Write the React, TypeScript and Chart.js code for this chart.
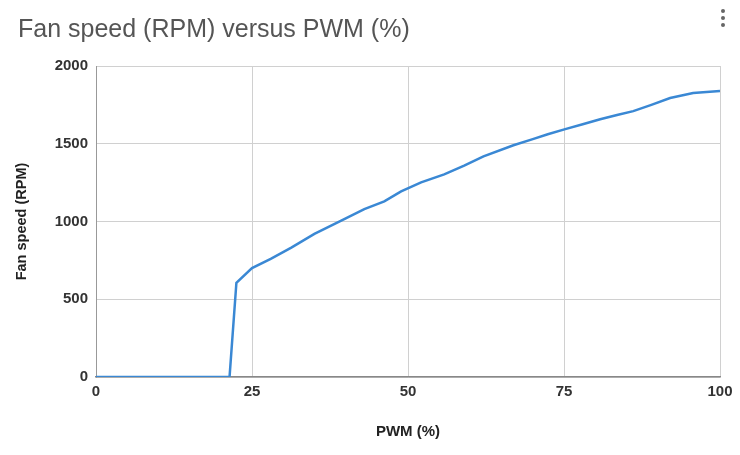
import React, { useEffect, useRef } from "react";
import { Chart, registerables } from "chart.js";

Chart.register(...registerables);

const chartTitle = "Fan speed (RPM) versus PWM (%)";
const xAxisTitle = "PWM (%)";
const yAxisTitle = "Fan speed (RPM)";

const pwm = [0, 21.4, 22.5, 25, 28, 31.3, 35, 39.3, 43, 46.2, 48.9, 52.1, 55.8, 59, 62.1, 66.9, 70, 72.4, 75.2, 78, 80.8, 83.5, 86.1, 89, 92, 95.7, 100];
const rpm = [0, 0, 606, 700, 760, 832, 920, 1006, 1080, 1129, 1194, 1252, 1303, 1360, 1419, 1490, 1530, 1561, 1594, 1625, 1658, 1685, 1710, 1750, 1794, 1826, 1840];

const xTicks = [0, 25, 50, 75, 100];
const yTicks = [0, 500, 1000, 1500, 2000];

const FONT = "'Liberation Sans', Arial, sans-serif";

const menuDots = {
  id: "menuDots",
  afterDraw(chart: any) {
    const ctx = chart.ctx;
    ctx.save();
    ctx.fillStyle = "#666";
    [11, 18, 25].forEach((y) => {
      ctx.beginPath();
      ctx.arc(723, y, 2, 0, Math.PI * 2);
      ctx.fill();
    });
    ctx.restore();
  },
};

export default function App() {
  const ref = useRef<HTMLCanvasElement>(null);
  useEffect(() => {
    if (!ref.current) return;
    const points = pwm.map((x, i) => ({ x, y: rpm[i] }));
    const chart = new Chart(ref.current, {
      type: "line",
      data: {
        datasets: [
          {
            data: points,
            borderColor: "#3a88d4",
            borderWidth: 2.5,
            pointRadius: 0,
            tension: 0,
            fill: false,
          },
        ],
      },
      options: {
        animation: false,
        responsive: false,
        events: [],
        layout: { padding: { left: 18, right: 20, top: 0, bottom: 0 } },
        plugins: {
          legend: { display: false },
          tooltip: { enabled: false },
          title: {
            display: true,
            text: chartTitle,
            align: "start",
            color: "#555",
            font: { family: FONT, size: 25, weight: "normal" },
            padding: { top: 15, bottom: 21 },
          },
        },
        scales: {
          x: {
            type: "linear",
            min: 0,
            max: 100,
            afterBuildTicks: (scale: any) => {
              scale.ticks = xTicks.map((v) => ({ value: v }));
            },
            afterFit: (scale: any) => {
              scale.height = 78;
            },
            ticks: {
              color: "#333",
              padding: 6,
              callback: (v: any) => String(v),
              font: { family: FONT, size: 15, weight: "bold" },
            },
            grid: { color: "#d0d0d0", drawTicks: false, lineWidth: 1 },
            border: { color: "#888", width: 1.5 },
            title: {
              display: true,
              text: xAxisTitle,
              color: "#222",
              font: { family: FONT, size: 15, weight: "bold" },
              padding: { top: 0, bottom: 14 },
            },
          },
          y: {
            type: "linear",
            min: 0,
            max: 2000,
            afterBuildTicks: (scale: any) => {
              scale.ticks = yTicks.map((v) => ({ value: v }));
            },
            afterFit: (scale: any) => {
              scale.width = 78;
            },
            ticks: {
              color: "#333",
              padding: 8,
              callback: (v: any) => String(v),
              font: { family: FONT, size: 15, weight: "bold" },
            },
            grid: { color: "#d0d0d0", drawTicks: false, lineWidth: 1 },
            border: { color: "#999", width: 1 },
            title: {
              display: true,
              text: yAxisTitle,
              color: "#222",
              font: { family: FONT, size: 14.5, weight: "bold" },
              padding: { top: -5, bottom: 0 },
            },
          },
        },
      },
      plugins: [menuDots],
    });
    return () => chart.destroy();
  }, []);
  return (
    <div style={{ position: "absolute", left: 0, top: 0, width: 740, height: 455, background: "#fff" }}>
      <canvas ref={ref} width={740} height={455} />
    </div>
  );
}
